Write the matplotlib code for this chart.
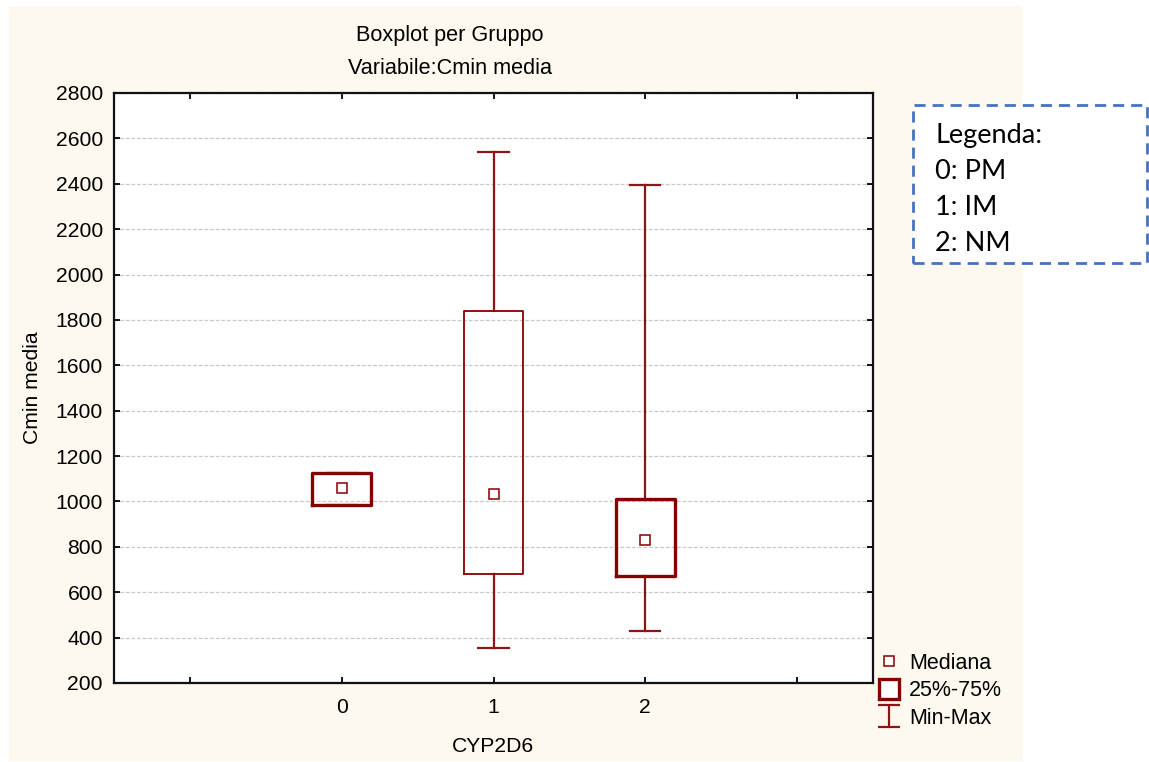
import matplotlib
matplotlib.use('Agg')
import matplotlib.pyplot as plt
from matplotlib.patches import Rectangle
from matplotlib.lines import Line2D
from matplotlib.path import Path
import numpy as np

# dati
gruppi = [0, 1, 2]
q1 = [985, 679, 673]
q3 = [1127, 1840, 1011]
mediana = [1061, 1032, 830]
minimo = [985, 354, 429]
massimo = [1127, 2542, 2395]
spessore_box = [2.4, 1.3, 2.4]

xtick_pos = [-1, 0, 1, 2, 3]
xtick_lab = ['', '0', '1', '2', '']
ytick_pos = np.arange(200, 2801, 200)
legenda_righe = ['Legenda:', '0: PM', '1: IM', '2: NM']

W, H = 1149, 762
rosso = '#850000'
crema = '#fef9ef'
plt.rcParams['font.family'] = ['Liberation Sans', 'DejaVu Sans']
fs = 15.2

fig = plt.figure(figsize=(W / 100, H / 100), dpi=100, facecolor='white')

def px(x0, y0):
    # pixel (dall'alto) -> coordinate figura
    return x0 / W, 1 - y0 / H

# sfondo crema
fig.add_artist(Rectangle(px(9, 761), (1022 - 9) / W, (761 - 6) / H,
                         transform=fig.transFigure, facecolor=crema,
                         edgecolor='none', zorder=-10))

ax = fig.add_axes([114 / W, 1 - 683 / H, (873 - 114) / W, (683 - 93) / H])
ax.set_facecolor('white')

stats = []
for i in range(len(gruppi)):
    stats.append({'med': mediana[i], 'q1': q1[i], 'q3': q3[i],
                  'whislo': minimo[i], 'whishi': massimo[i], 'fliers': []})
res = ax.bxp(stats, positions=gruppi, widths=0.39, capwidths=0.2,
             showfliers=False, patch_artist=False,
             medianprops=dict(linewidth=0),
             whiskerprops=dict(color='#8e1515', linewidth=1.6),
             capprops=dict(color='#8e1515', linewidth=1.6),
             boxprops=dict(color=rosso))
for b, lw in zip(res['boxes'], spessore_box):
    b.set_linewidth(lw)
    b.set_zorder(4)
ax.plot(gruppi, mediana, 's', ms=7, mfc='white', mec=rosso, mew=1.1,
        linestyle='none', zorder=5)

ax.set_xlim(-1.5, 3.5)
ax.set_ylim(200, 2800)
ax.set_xticks(xtick_pos)
ax.set_xticklabels(xtick_lab)
ax.set_yticks(ytick_pos)
ax.tick_params(direction='in', length=4, width=1.3, top=True, right=True,
               labelsize=fs, colors='black')
ax.tick_params(axis='x', pad=11)
ax.tick_params(axis='y', pad=8)
ax.yaxis.grid(True, color='#c8c8c8', linestyle=(0, (3, 1.5)), linewidth=0.9)
ax.set_axisbelow(True)
for s in ax.spines.values():
    s.set_linewidth(1.6)
    s.set_color('#111111')

# titoli ed etichette
fig.text(*px(450, 36), 'Boxplot per Gruppo', ha='center', va='center', fontsize=15.6)
fig.text(*px(450, 68), 'Variabile:Cmin media', ha='center', va='center', fontsize=15.6)
fig.text(*px(33, 388), 'Cmin media', rotation=90, ha='center', va='center', fontsize=fs)
fig.text(*px(493, 747), 'CYP2D6', ha='center', va='center', fontsize=fs)

# legenda simboli
ibeam = Path([(-1, -1), (1, -1), (0, -1), (0, 1), (-1, 1), (1, 1)],
             [Path.MOVETO, Path.LINETO, Path.MOVETO, Path.LINETO,
              Path.MOVETO, Path.LINETO])
handles = [
    Line2D([], [], marker='s', ms=7, mfc='white', mec=rosso, mew=1.1, ls='none'),
    Line2D([], [], marker='s', ms=14, mfc='white', mec=rosso, mew=2.4, ls='none'),
    Line2D([], [], marker=ibeam, ms=16, mec='#8e1515', mew=1.6, ls='none'),
]
fig.legend(handles, ['Mediana', '25%-75%', 'Min-Max'], loc='upper left',
           bbox_to_anchor=px(876, 653), frameon=False, fontsize=15.5,
           handlelength=1.2, handletextpad=0.35, labelspacing=0.3,
           borderpad=0, borderaxespad=0)

# riquadro legenda gruppi
fig.add_artist(Rectangle(px(913, 263), (1147 - 913) / W, (263 - 105) / H,
                         transform=fig.transFigure, facecolor='white',
                         edgecolor='#4472c4', linewidth=2.0,
                         linestyle=(0, (4, 2.5)), zorder=5))
for k, riga in enumerate(legenda_righe):
    fig.text(*px(935, 143 + 36 * k), riga, ha='left', va='baseline',
             fontsize=19.5, family=['Lato', 'DejaVu Sans'], zorder=6)

fig.savefig('out.png', dpi=100)
